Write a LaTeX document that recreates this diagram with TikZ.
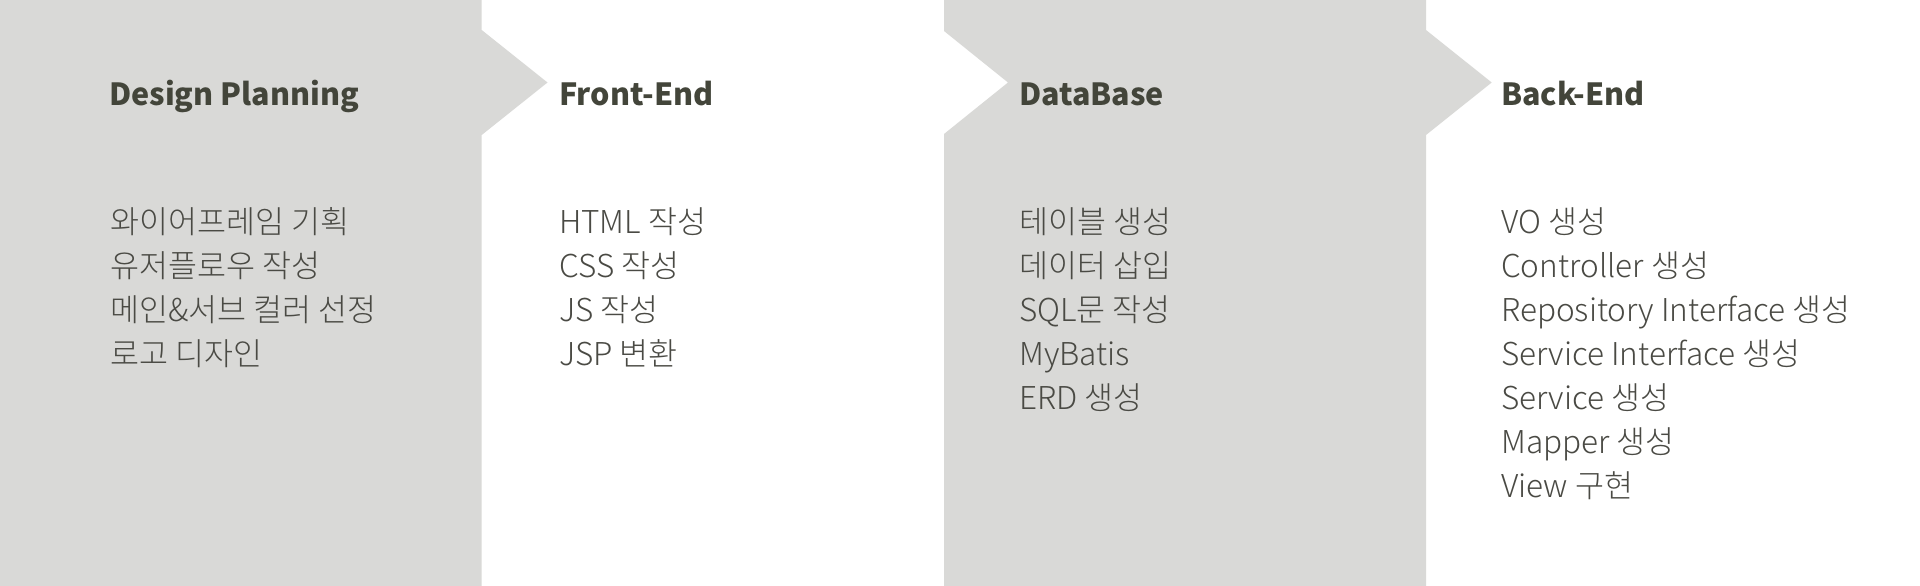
\documentclass[tikz,border=0pt]{standalone}
\usepackage{fontspec}
\setmainfont{Noto Sans CJK KR}
\IfFontExistsTF{Noto Sans CJK KR Light}
  {\newfontfamily\itemfamily{Noto Sans CJK KR Light}}
  {\IfFontExistsTF{Noto Sans CJK KR DemiLight}
     {\newfontfamily\itemfamily{Noto Sans CJK KR DemiLight}}
     {\newfontfamily\itemfamily{Noto Sans CJK KR}}}
\definecolor{panelgrey}{HTML}{D9D9D7}
\definecolor{headc}{HTML}{43453A}
\definecolor{itemc}{HTML}{4A4A44}
\tikzset{
  headtext/.style={anchor=base west, inner sep=0pt, text=headc, font=\fontsize{30.5}{36}\selectfont\bfseries},
  itemtext/.style={anchor=base west, inner sep=0pt, text=itemc, font=\itemfamily\fontsize{31.5}{44}\selectfont},
  panelfill/.style={fill=panelgrey, draw=none}
}
\begin{document}
\begin{tikzpicture}[x=1pt,y=-1pt]
\useasboundingbox (0,0) rectangle (1920,586);
\fill[white] (0,0) rectangle (1920,586);
% grey panel 1 with arrow
\fill[panelfill] (0,0) -- (481.7,0) -- (481.7,30) -- (547.5,82.5) -- (481.7,135) -- (481.7,586) -- (0,586) -- cycle;
% grey panel 3 with notch and arrow
\fill[panelfill] (944,0) -- (1426,0) -- (1426,30) -- (1491.7,82.5) -- (1426,135) -- (1426,586) -- (944,586) -- (944,134) -- (1008,82.5) -- (944,31) -- cycle;

% column 1
\node[headtext] (h1) at (109,105) {Design Planning};
\node[itemtext] (a1) at (110,233) {와이어프레임 기획};
\node[itemtext] (a2) at (110,277) {유저플로우 작성};
\node[itemtext] (a3) at (110,321) {메인\&서브 컬러 선정};
\node[itemtext] (a4) at (110,365) {로고 디자인};

% column 2
\node[headtext] (h2) at (559,105) {Front-End};
\node[itemtext] (b1) at (559,233) {HTML 작성};
\node[itemtext] (b2) at (559,277) {CSS 작성};
\node[itemtext] (b3) at (559,321) {JS 작성};
\node[itemtext] (b4) at (559,365) {JSP 변환};

% column 3
\node[headtext] (h3) at (1019,105) {DataBase};
\node[itemtext] (c1) at (1019,233) {테이블 생성};
\node[itemtext] (c2) at (1019,277) {데이터 삽입};
\node[itemtext] (c3) at (1019,321) {SQL문 작성};
\node[itemtext] (c4) at (1019,365) {MyBatis};
\node[itemtext] (c5) at (1019,409) {ERD 생성};

% column 4
\node[headtext] (h4) at (1501,105) {Back-End};
\node[itemtext] (e1) at (1501,233) {VO 생성};
\node[itemtext] (e2) at (1501,277) {Controller 생성};
\node[itemtext] (e3) at (1501,321) {Repository Interface 생성};
\node[itemtext] (e4) at (1501,365) {Service Interface 생성};
\node[itemtext] (e5) at (1501,409) {Service 생성};
\node[itemtext] (e6) at (1501,453) {Mapper 생성};
\node[itemtext] (e7) at (1501,497) {View 구현};
\end{tikzpicture}
\end{document}
